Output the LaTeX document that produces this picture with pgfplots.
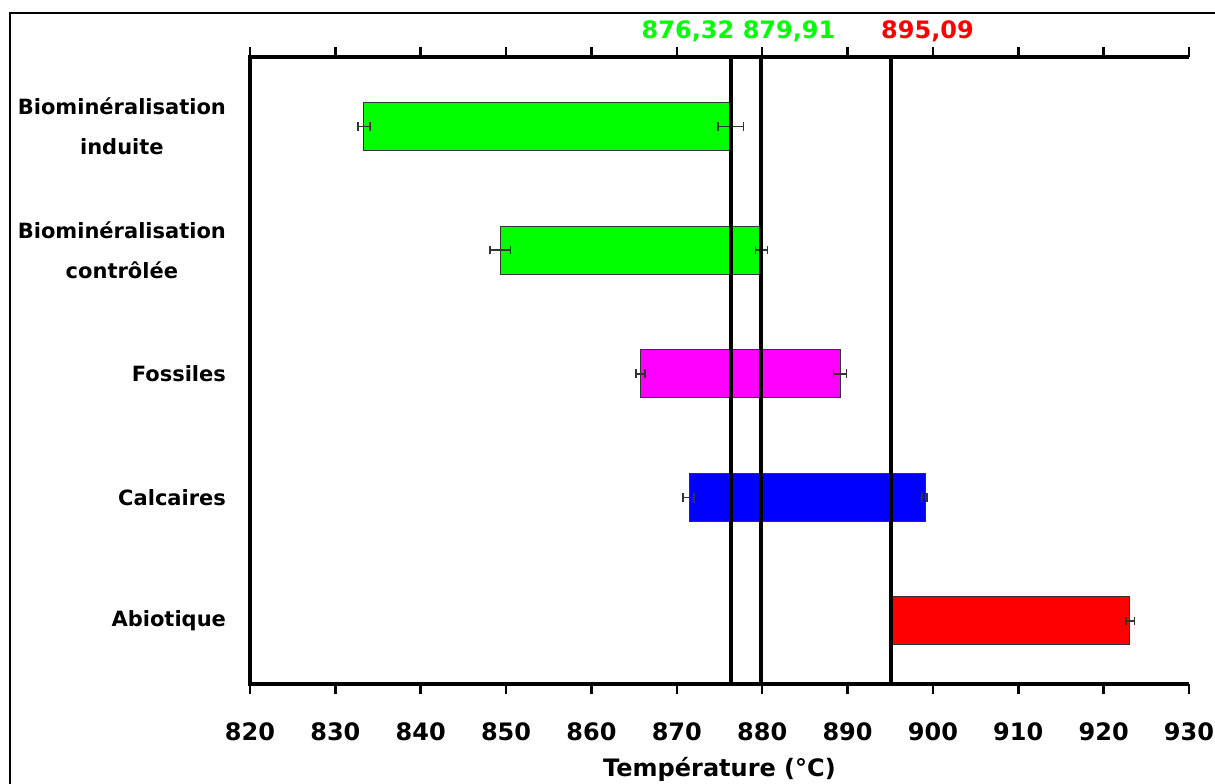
\documentclass[border=0pt]{standalone}
\usepackage{fontspec}
\setmainfont{DejaVu Sans}
\usepackage{pgfplots}
\pgfplotsset{compat=1.18}
\definecolor{cgreen}{RGB}{0,255,0}
\definecolor{cmag}{RGB}{255,0,255}
\definecolor{cblue}{RGB}{0,0,255}
\definecolor{cred}{RGB}{255,0,0}
\begin{document}
\begin{tikzpicture}
\useasboundingbox (-125pt,-49.5pt) rectangle (482.5pt,342pt);
\fill[white] (-125pt,-49.5pt) rectangle (482.5pt,342pt);
\draw[line width=1.3pt] (-120pt,-60pt) -- (-120pt,335.5pt) -- (495pt,335.5pt);
\begin{axis}[
  at={(0pt,0pt)}, anchor=south west,
  scale only axis, width=469.5pt, height=313.5pt,
  xmin=820, xmax=930, ymin=-0.51, ymax=4.562,
  clip=false,
  axis line style={draw=none},
  xtick={820,830,...,930},
  xtick pos=both, xticklabel pos=lower,
  tick align=outside,
  major tick length=5pt,
  x tick style={line width=1.3pt, black},
  ytick={0,1,2,3,4},
  y tick style={draw=none},
  yticklabels={Abiotique, Calcaires, Fossiles, {Biominéralisation\\contrôlée}, {Biominéralisation\\induite}},
  yticklabel style={align=center, font=\fontsize{10.5}{20}\selectfont\bfseries, xshift=-3.5pt},
  xticklabel style={font=\fontsize{12}{14}\selectfont\bfseries, yshift=-11pt},
  /pgf/number format/assume math mode=true,
  /pgf/number format/1000 sep={},
  xlabel={Température (°C)},
  xlabel style={font=\fontsize{12}{14}\selectfont\bfseries, yshift=-1pt},
]
% bars (lo, hi at category y, half-height 0.194)
\addplot[draw=black!80, line width=0.5pt, fill=cgreen] coordinates {(833.35,3.806) (876.32,3.806) (876.32,4.194) (833.35,4.194)} -- cycle;
\addplot[draw=black!80, line width=0.5pt, fill=cgreen] coordinates {(849.29,2.806) (879.8,2.806) (879.8,3.194) (849.29,3.194)} -- cycle;
\addplot[draw=black!80, line width=0.5pt, fill=cmag] coordinates {(865.69,1.806) (889.12,1.806) (889.12,2.194) (865.69,2.194)} -- cycle;
\addplot[draw=black!80, line width=0.5pt, fill=cblue] coordinates {(871.43,0.806) (899.08,0.806) (899.08,1.194) (871.43,1.194)} -- cycle;
\addplot[draw=black!80, line width=0.5pt, fill=cred] coordinates {(895.09,-0.194) (923.06,-0.194) (923.06,0.194) (895.09,0.194)} -- cycle;
% error bars at the bar ends
\addplot[draw=none, mark=none,
  error bars/.cd, x dir=both, x explicit,
  error bar style={line width=0.8pt, black!80},
  error mark options={rotate=90, line width=0.8pt, black!80, mark size=2.2pt}]
  coordinates {
  (833.35,4) +- (0.7,0)
  (876.3,4) +- (1.5,0)
  (849.3,3) +- (1.2,0)
  (879.9,3) +- (0.7,0)
  (865.75,2) +- (0.5,0)
  (889.12,2) +- (0.75,0)
  (871.35,1) +- (0.65,0)
  (899.02,1) +- (0.3,0)
  (923.1,0) +- (0.5,0)
  };
% vertical reference lines
\addplot[black, line width=2pt] coordinates {(876.32,-0.51) (876.32,4.562)};
\addplot[black, line width=2pt] coordinates {(879.91,-0.51) (879.91,4.562)};
\addplot[black, line width=2pt] coordinates {(895.09,-0.51) (895.09,4.562)};
% axis spines: left, bottom, top (no right spine)
\draw[line width=2pt] (rel axis cs:1,1) -- (rel axis cs:0,1) -- (rel axis cs:0,0) -- (rel axis cs:1,0);
\node[text=cgreen, anchor=base, font=\fontsize{12}{14}\selectfont\bfseries, yshift=9pt] at (axis cs:871.31,4.562) {876,32};
\node[text=cgreen, anchor=base, font=\fontsize{12}{14}\selectfont\bfseries, yshift=9pt] at (axis cs:883.15,4.562) {879,91};
\node[text=cred, anchor=base, font=\fontsize{12}{14}\selectfont\bfseries, yshift=9pt] at (axis cs:899.37,4.562) {895,09};
\end{axis}
\end{tikzpicture}
\end{document}
